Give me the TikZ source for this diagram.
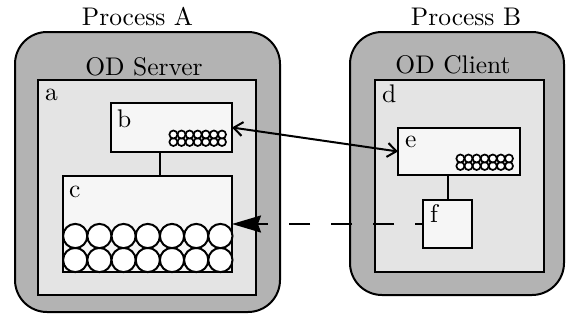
\documentclass[tikz,border=0pt]{standalone}
\usepackage{xcolor}
\usepackage{fontspec}
\newfontfamily\lmfont{lmroman10-regular.otf}
\usetikzlibrary{arrows.meta}

\definecolor{procgray}{RGB}{179,179,179}
\definecolor{sidegray}{RGB}{228,228,228}
\definecolor{partgray}{RGB}{246,246,246}

\tikzset{
    process/.style={draw, line width=2pt, fill=procgray, rounded corners=32pt, inner sep=0pt, outer sep=0pt},
    side/.style={draw, line width=2pt, fill=sidegray, inner sep=0pt, outer sep=0pt},
    part/.style={draw, line width=2pt, fill=partgray, inner sep=0pt, outer sep=0pt},
    title/.style={anchor=base, inner sep=0pt},
    tag/.style={anchor=base west, inner sep=0pt},
    ball/.style={draw, line width=2pt, fill=white},
    bead/.style={draw, line width=1.7pt, fill=white},
    link/.style={line width=2pt},
}

\begin{document}
\begin{tikzpicture}[x=1pt, y=-1pt, font=\lmfont\fontsize{25.5}{30}\selectfont]
    \useasboundingbox (0,0) rectangle (566,324);

    % Here are the two processes
    \node[process, minimum width=265pt, minimum height=280pt] (pa) at (147.5,172) {};
    \node[process, minimum width=214pt, minimum height=263pt] (pb) at (457,163.5) {};
    \node[title] (ta) at (137.5,25) {Process A};
    \node[title] (tb) at (466,25) {Process B};
    \node[title] (ts) at (144,75) {OD Server};
    \node[title] (tc) at (453,73) {OD Client};

    % server and client sides
    \node[side, minimum width=218pt, minimum height=215pt] (a) at (147,187.5) {};
    \node[side, minimum width=169pt, minimum height=192pt] (d) at (459.5,176) {};

    % the parts inside them
    \node[part, minimum width=121pt, minimum height=49pt] (b) at (171.5,127.5) {};
    \node[part, minimum width=169pt, minimum height=96pt] (c) at (147.5,224) {};
    \node[part, minimum width=122pt, minimum height=47pt] (e) at (459,151.5) {};
    \node[part, minimum width=49pt, minimum height=48pt] (f) at (447.5,224) {};

    % using loops for the rows of circles
    \foreach \i in {0,...,6}
        \foreach \j in {0,1}
            \draw[ball] ([shift={(12.2+\i*24.2, -12-\j*24)}]c.south west) circle (12.1pt);
    \foreach \i in {0,...,6}
        \foreach \j in {0,1} {
            \draw[bead] ([shift={(-10-\i*8.1, -10-\j*7.5)}]b.south east) circle (4pt);
            \draw[bead] ([shift={(-11-\i*8.1, -9-\j*7.5)}]e.south east) circle (4pt);
        }

    % connections
    \draw[link] ([xshift=-11.5pt]b.south) -- ([xshift=-11.5pt]b.south |- c.north);
    \draw[link] (f.north) -- (f.north |- e.south);
    \draw[link, {Straight Barb[length=9pt,width=14pt]}-{Straight Barb[length=9pt,width=14pt]}] (b.east) -- (e.west);
    \draw[link, dash pattern=on 21pt off 21pt, dash phase=13pt, -{Stealth[length=29pt,width=17pt,inset=3pt]}] (f.west) -- (c.east);

    % using node for text
    \node[tag] (la) at ([shift={(7,20)}]a.north west) {a};
    \node[tag] (lb) at ([shift={(6,24)}]b.north west) {b};
    \node[tag] (lc) at ([shift={(6,21)}]c.north west) {c};
    \node[tag] (ld) at ([shift={(7,22)}]d.north west) {d};
    \node[tag] (le) at ([shift={(7,19)}]e.north west) {e};
    \node[tag] (lf) at ([shift={(7,22)}]f.north west) {f};
\end{tikzpicture}
\end{document}
